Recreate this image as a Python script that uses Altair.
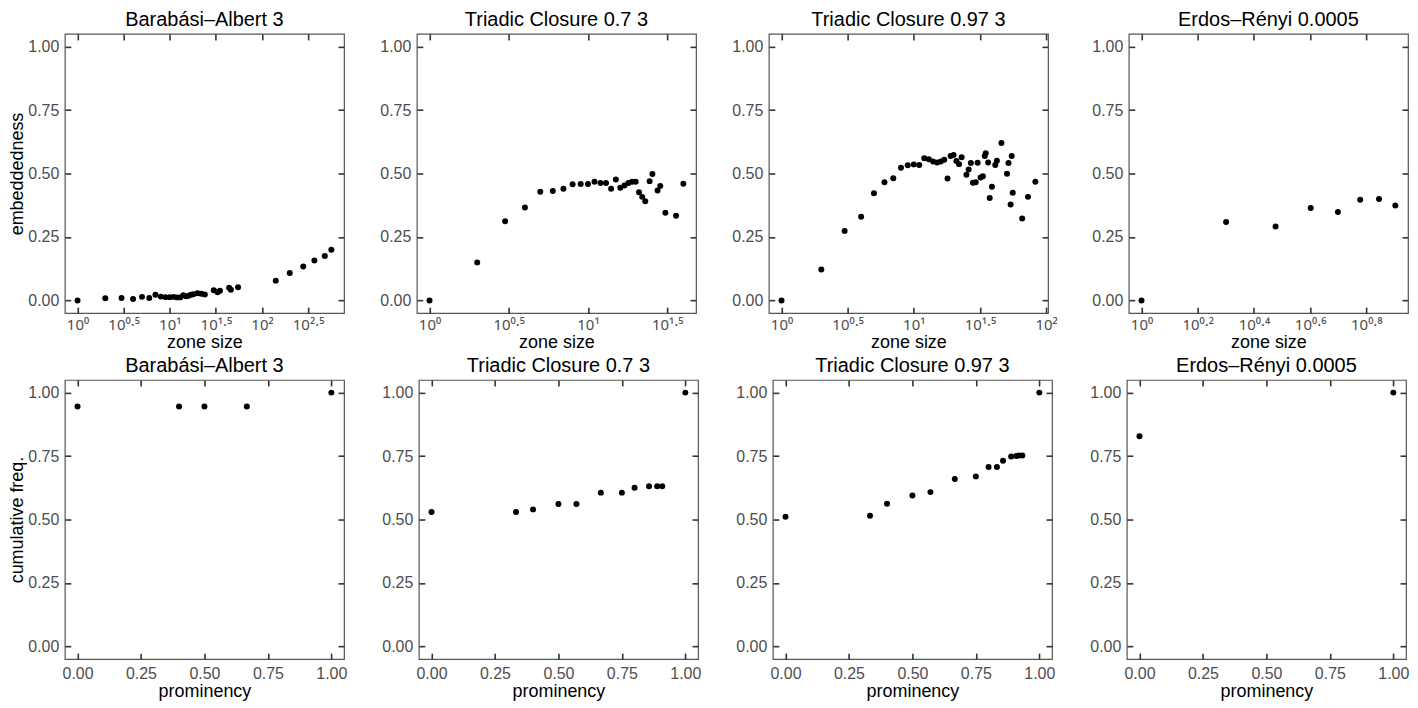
import math
import altair as alt
import pandas as pd

# ---------------- data ----------------
panel_titles = ["Barabási–Albert 3", "Triadic Closure 0.7 3",
                "Triadic Closure 0.97 3", "Erdos–Rényi 0.0005"]

ba_zone_size = [1, 2, 3, 4, 5, 6, 7, 8, 9, 10, 11, 12, 13, 14, 15, 16, 17, 18,
                20, 22, 24, 30, 33, 35, 44, 46, 55, 141, 200, 280, 370, 480, 565]
ba_embeddedness = [0.0, 0.009, 0.010, 0.006, 0.014, 0.010, 0.022, 0.015, 0.013,
                   0.013, 0.014, 0.012, 0.012, 0.020, 0.016, 0.018, 0.022, 0.024,
                   0.028, 0.026, 0.023, 0.040, 0.032, 0.038, 0.050, 0.042, 0.052,
                   0.078, 0.108, 0.134, 0.157, 0.175, 0.200]

tc07_zone_size = [1, 2, 3, 4, 5, 6, 7, 8, 9, 10, 11, 12, 13, 14, 15, 16, 17, 18,
                  19, 20, 21, 22, 23, 24.5, 25.5, 27.5, 28.6, 30.8, 36, 40]
tc07_embeddedness = [0.0, 0.149, 0.312, 0.366, 0.428, 0.431, 0.440, 0.458, 0.459,
                     0.459, 0.468, 0.463, 0.463, 0.440, 0.476, 0.444, 0.453, 0.463,
                     0.468, 0.468, 0.426, 0.408, 0.391, 0.470, 0.498, 0.433, 0.451,
                     0.345, 0.334, 0.460]

tc097_zone_size = [1, 2, 3, 4, 5, 6, 7, 8, 9, 10, 11, 12, 13, 14, 15, 16, 17, 18,
                   19, 20, 21, 22, 23, 25, 26, 27, 28, 29.4, 30.4, 32, 33.3, 34.4,
                   35, 36.5, 37.5, 39, 41.3, 42.5, 46, 50.7, 52, 54, 55, 56, 66,
                   73, 83]
tc097_embeddedness = [0.0, 0.122, 0.274, 0.330, 0.422, 0.466, 0.481, 0.523, 0.533,
                      0.536, 0.534, 0.560, 0.556, 0.547, 0.543, 0.547, 0.554, 0.480,
                      0.569, 0.573, 0.549, 0.537, 0.564, 0.495, 0.516, 0.541, 0.464,
                      0.466, 0.542, 0.484, 0.489, 0.569, 0.580, 0.543, 0.404, 0.448,
                      0.534, 0.550, 0.620, 0.499, 0.541, 0.378, 0.569, 0.424, 0.323,
                      0.408, 0.468]

er_zone_size = [1, 2, 3, 4, 5, 6, 7, 8]
er_embeddedness = [0.0, 0.309, 0.291, 0.364, 0.348, 0.397, 0.400, 0.374]

ba_prominency = [0.0, 0.4, 0.5, 0.667, 1.0]
ba_cum_freq = [0.945, 0.945, 0.945, 0.945, 1.0]

tc07_prominency = [0.0, 0.333, 0.4, 0.5, 0.571, 0.667, 0.75, 0.8, 0.857, 0.889,
                   0.909, 1.0]
tc07_cum_freq = [0.530, 0.530, 0.540, 0.561, 0.561, 0.606, 0.606, 0.625, 0.631,
                 0.631, 0.631, 1.0]

tc097_prominency = [0.0, 0.333, 0.4, 0.5, 0.571, 0.667, 0.75, 0.8, 0.833, 0.857,
                    0.889, 0.909, 0.92, 0.933, 1.0]
tc097_cum_freq = [0.511, 0.515, 0.562, 0.595, 0.608, 0.660, 0.670, 0.707, 0.707,
                  0.732, 0.748, 0.750, 0.752, 0.752, 1.0]

er_prominency = [0.0, 1.0]
er_cum_freq = [0.828, 1.0]

# log-axis tick exponents and their labels, one list per panel
ba_tick_exp = [0, 0.5, 1, 1.5, 2, 2.5]
ba_tick_labels = ["10⁰", "10⁰·⁵", "10¹", "10¹·⁵", "10²", "10²·⁵"]
tc07_tick_exp = [0, 0.5, 1, 1.5]
tc07_tick_labels = ["10⁰", "10⁰·⁵", "10¹", "10¹·⁵"]
tc097_tick_exp = [0, 0.5, 1, 1.5, 2]
tc097_tick_labels = ["10⁰", "10⁰·⁵", "10¹", "10¹·⁵", "10²"]
er_tick_exp = [0, 0.2, 0.4, 0.6, 0.8]
er_tick_labels = ["10⁰", "10⁰·²", "10⁰·⁴", "10⁰·⁶", "10⁰·⁸"]

y_ticks = [0, 0.25, 0.5, 0.75, 1.0]
prom_ticks = [0, 0.25, 0.5, 0.75, 1.0]

# ---------------- styling ----------------
FONT = "Liberation Sans"
SUP_FONT = "Noto Sans"
W, H = 280, 280
TICK = 6


def label_expr(exps, labels):
    expr = "''"
    for e, l in reversed(list(zip(exps, labels))):
        expr = f"(abs(log(datum.value)/LN10 - {e}) < 0.01 ? '{l}' : {expr})"
    return expr


def panel(xs, ys, title, xtitle, ytitle, log_ticks=None, log_labels=None):
    df = pd.DataFrame({"x": xs, "y": ys})
    if log_ticks is not None:
        lo, hi = math.log10(min(xs)), math.log10(max(xs))
        pad = 0.05 * (hi - lo)
        xscale = alt.Scale(type="log", domain=[10 ** (lo - pad), 10 ** (hi + pad)],
                           nice=False, zero=False)
        xvals = [10 ** e for e in log_ticks]
        lexpr = label_expr(log_ticks, log_labels)
        bottom = alt.Axis(values=xvals, labelExpr=lexpr, title=xtitle, orient="bottom",
                          labelFont=SUP_FONT, labelFontSize=15, labelPadding=4)
    else:
        xscale = alt.Scale(domain=[-0.05, 1.05], nice=False, zero=False)
        xvals = prom_ticks
        bottom = alt.Axis(values=xvals, format=".2f", title=xtitle, orient="bottom")
    yscale = alt.Scale(domain=[-0.05, 1.05], nice=False, zero=False)
    left_kw = dict(values=y_ticks, format=".2f", orient="left")
    if ytitle:
        left = alt.Axis(title=ytitle, **left_kw)
    else:
        left = alt.Axis(title=None, **left_kw)

    pts = alt.Chart(df).mark_circle(size=36, color="black", opacity=1).encode(
        x=alt.X("x:Q", scale=xscale, axis=bottom),
        y=alt.Y("y:Q", scale=yscale, axis=left),
    )
    ghost = alt.Chart(df).mark_point(opacity=0).encode(
        x=alt.X("x:Q", scale=xscale,
                axis=alt.Axis(values=xvals, labels=False, title=None, orient="top")),
        y=alt.Y("y:Q", scale=yscale,
                axis=alt.Axis(values=y_ticks, labels=False, title=None, orient="right")),
    )
    return alt.layer(pts, ghost).resolve_axis(x="independent", y="independent").properties(
        width=W, height=H,
        title=alt.TitleParams(title, fontSize=20, font=FONT, fontWeight="normal",
                              color="black", offset=3, anchor="middle"),
    )


top = alt.hconcat(
    panel(ba_zone_size, ba_embeddedness, panel_titles[0], "zone size", "embeddedness",
          ba_tick_exp, ba_tick_labels),
    panel(tc07_zone_size, tc07_embeddedness, panel_titles[1], "zone size", None,
          tc07_tick_exp, tc07_tick_labels),
    panel(tc097_zone_size, tc097_embeddedness, panel_titles[2], "zone size", None,
          tc097_tick_exp, tc097_tick_labels),
    panel(er_zone_size, er_embeddedness, panel_titles[3], "zone size", None,
          er_tick_exp, er_tick_labels),
    spacing=33,
)
bottom = alt.hconcat(
    panel(ba_prominency, ba_cum_freq, panel_titles[0], "prominency", "cumulative freq."),
    panel(tc07_prominency, tc07_cum_freq, panel_titles[1], "prominency", None),
    panel(tc097_prominency, tc097_cum_freq, panel_titles[2], "prominency", None),
    panel(er_prominency, er_cum_freq, panel_titles[3], "prominency", None),
    spacing=33,
)

chart = alt.vconcat(top, bottom, spacing=3).properties(
    padding=0, background="white"
).configure_view(
    stroke="#555555", strokeWidth=1.2
).configure_axis(
    grid=False, domain=False, offset=-TICK, tickSize=TICK, tickWidth=1.6,
    tickColor="#333333", labelFont=FONT, labelFontSize=16, labelColor="#4D4D4D",
    labelPadding=6, labelFlush=False, labelOverlap=False,
    titleFont=FONT, titleFontSize=18, titleColor="black", titleFontWeight="normal",
    titlePadding=1,
)

chart.save("out.html", embed_options={"renderer": "svg", "actions": False})
